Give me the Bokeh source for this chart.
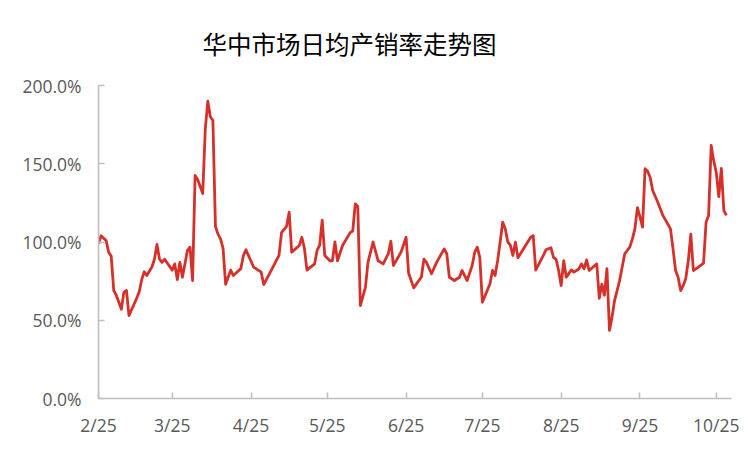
import pandas as pd
from bokeh.plotting import figure
from bokeh.models import FixedTicker, CustomJSTickFormatter, Range1d
from bokeh.embed import file_html
from bokeh.resources import INLINE

title_text = "华中市场日均产销率走势图"

dates = [
    "2024-02-25", "2024-02-26", "2024-02-28", "2024-02-29", "2024-03-01", "2024-03-02",
    "2024-03-03", "2024-03-05", "2024-03-06", "2024-03-07", "2024-03-08", "2024-03-11",
    "2024-03-12", "2024-03-13", "2024-03-14", "2024-03-15", "2024-03-17", "2024-03-18",
    "2024-03-19", "2024-03-20", "2024-03-21", "2024-03-22", "2024-03-25", "2024-03-26",
    "2024-03-27", "2024-03-28", "2024-03-29", "2024-03-31", "2024-04-01", "2024-04-02",
    "2024-04-03", "2024-04-04", "2024-04-06", "2024-04-07", "2024-04-08", "2024-04-09",
    "2024-04-10", "2024-04-11", "2024-04-12", "2024-04-13", "2024-04-14", "2024-04-15",
    "2024-04-17", "2024-04-18", "2024-04-21", "2024-04-22", "2024-04-23", "2024-04-26",
    "2024-04-29", "2024-04-30", "2024-05-03", "2024-05-06", "2024-05-07", "2024-05-08",
    "2024-05-09", "2024-05-10", "2024-05-11", "2024-05-14", "2024-05-15", "2024-05-16",
    "2024-05-17", "2024-05-20", "2024-05-21", "2024-05-22", "2024-05-23", "2024-05-24",
    "2024-05-26", "2024-05-27", "2024-05-28", "2024-05-29", "2024-05-31", "2024-06-03",
    "2024-06-04", "2024-06-05", "2024-06-06", "2024-06-07", "2024-06-09", "2024-06-10",
    "2024-06-12", "2024-06-14", "2024-06-16", "2024-06-18", "2024-06-19", "2024-06-20",
    "2024-06-23", "2024-06-25", "2024-06-26", "2024-06-28", "2024-06-30", "2024-07-01",
    "2024-07-02", "2024-07-03", "2024-07-05", "2024-07-07", "2024-07-10", "2024-07-11",
    "2024-07-12", "2024-07-14", "2024-07-16", "2024-07-17", "2024-07-19", "2024-07-21",
    "2024-07-22", "2024-07-23", "2024-07-24", "2024-07-25", "2024-07-28", "2024-07-29",
    "2024-07-30", "2024-07-31", "2024-08-01", "2024-08-02", "2024-08-03", "2024-08-04",
    "2024-08-05", "2024-08-06", "2024-08-07", "2024-08-08", "2024-08-11", "2024-08-13",
    "2024-08-14", "2024-08-15", "2024-08-18", "2024-08-19", "2024-08-21", "2024-08-22",
    "2024-08-23", "2024-08-24", "2024-08-25", "2024-08-26", "2024-08-27", "2024-08-29",
    "2024-08-30", "2024-09-01", "2024-09-02", "2024-09-03", "2024-09-04", "2024-09-05",
    "2024-09-08", "2024-09-09", "2024-09-10", "2024-09-11", "2024-09-12", "2024-09-13",
    "2024-09-14", "2024-09-15", "2024-09-17", "2024-09-18", "2024-09-19", "2024-09-21",
    "2024-09-22", "2024-09-23", "2024-09-24", "2024-09-25", "2024-09-26", "2024-09-27",
    "2024-09-28", "2024-09-29", "2024-09-30", "2024-10-02", "2024-10-04", "2024-10-07",
    "2024-10-08", "2024-10-09", "2024-10-10", "2024-10-11", "2024-10-12", "2024-10-13",
    "2024-10-14", "2024-10-15", "2024-10-16", "2024-10-18", "2024-10-20", "2024-10-21",
    "2024-10-22", "2024-10-23", "2024-10-24", "2024-10-25", "2024-10-26", "2024-10-27",
    "2024-10-28", "2024-10-29",
]

rates = [
    99, 104, 101, 93.5, 91, 69,
    66, 57, 68, 69, 53, 64,
    68, 76, 81, 78.6, 84, 89,
    98.4, 89, 87, 89, 82, 86,
    76, 87, 77.5, 94.6, 96.7, 75.4,
    142.5, 140, 131, 172, 190, 180,
    177.6, 110, 105, 102, 96, 73,
    82, 78.6, 83, 91.4, 95, 84,
    80.7, 72.8, 82, 91.4, 106, 108,
    110, 119, 93.5, 97.8, 103, 96,
    82, 86, 94.6, 98, 114, 91.4,
    88, 88, 100, 88, 97.8, 106,
    107, 124.4, 122.7, 59.4, 71, 87,
    100, 88, 86, 92.5, 100.5, 85,
    93.5, 103, 80, 70.7, 75.4, 77.5,
    89, 87, 79.7, 87, 95.6, 92.5,
    77.5, 75.4, 77.5, 81.8, 75.4, 85,
    93.5, 96.7, 90, 61.5, 73.3, 81.8,
    78.6, 88, 100, 112.7, 108.4, 100,
    98, 91.4, 99.9, 90, 97.8, 103,
    104, 82, 91.4, 95, 96.3, 90,
    89, 81.8, 72.2, 88, 77.5, 82.2,
    80.7, 82.9, 86, 82.9, 88.6, 81.8,
    86, 64, 73, 66, 83, 43.5,
    52, 62.6, 75.4, 84, 92.5, 96.7,
    102, 108.4, 122, 116, 109.5, 146.8,
    145.2, 141.4, 132.9, 125.4, 117, 108.4,
    95.6, 81.8, 77.5, 69, 72.2, 76.5,
    88, 105, 81.8, 84, 86.5, 112.7,
    117, 161.7, 152, 144.6, 129, 147,
    120, 117,
]

tick_dates = ["2024-02-25", "2024-03-25", "2024-04-25", "2024-05-25", "2024-06-25",
              "2024-07-25", "2024-08-25", "2024-09-25", "2024-10-25"]
tick_labels = ["2/25", "3/25", "4/25", "5/25", "6/25", "7/25", "8/25", "9/25", "10/25"]
y_ticks = [0, 50, 100, 150, 200]
x_start = "2024-02-25"
x_end = "2024-10-31"

x = pd.to_datetime(dates)

def ms(s):
    return pd.Timestamp(s).value / 1e6

p = figure(width=742, height=442, x_axis_type="datetime",
           output_backend="svg", toolbar_location=None,
           min_border_left=98, min_border_right=11,
           min_border_top=85, min_border_bottom=44,
           x_range=Range1d(ms(x_start), ms(x_end)),
           y_range=Range1d(0, 200))

p.title.text = title_text
p.title.text_font = "Noto Sans CJK SC"
p.title.text_font_size = "24.5px"
p.title.text_font_style = "normal"
p.title.text_color = "#000000"
p.title.align = "left"
p.title.vertical_align = "top"
p.title.offset = 104
p.title.standoff = 46

p.line(x, rates, line_color="#D5302A", line_width=2.8, line_join="round")

p.outline_line_color = None
p.xgrid.visible = False
p.ygrid.visible = False
p.background_fill_color = "white"
p.border_fill_color = "white"

tick_ms = [ms(d) for d in tick_dates]
p.xaxis.ticker = FixedTicker(ticks=tick_ms)
p.xaxis.major_label_overrides = {t: l for t, l in zip(tick_ms, tick_labels)}
p.yaxis.ticker = FixedTicker(ticks=y_ticks)
p.yaxis.formatter = CustomJSTickFormatter(code="return tick.toFixed(1) + '%';")

for ax in (p.xaxis[0], p.yaxis[0]):
    ax.axis_line_color = "#BFBFBF"
    ax.axis_line_width = 1.6
    ax.major_tick_line_color = "#BFBFBF"
    ax.major_tick_line_width = 1.6
    ax.major_tick_in = 6
    ax.major_tick_out = 0
    ax.minor_tick_line_color = None
    ax.major_label_text_font = "Open Sans"
    ax.major_label_text_font_size = "17.5px"
    ax.major_label_text_color = "#595959"

p.yaxis.major_label_standoff = 17
p.xaxis.major_label_standoff = 14

open("out.html", "w").write(file_html(p, INLINE))
